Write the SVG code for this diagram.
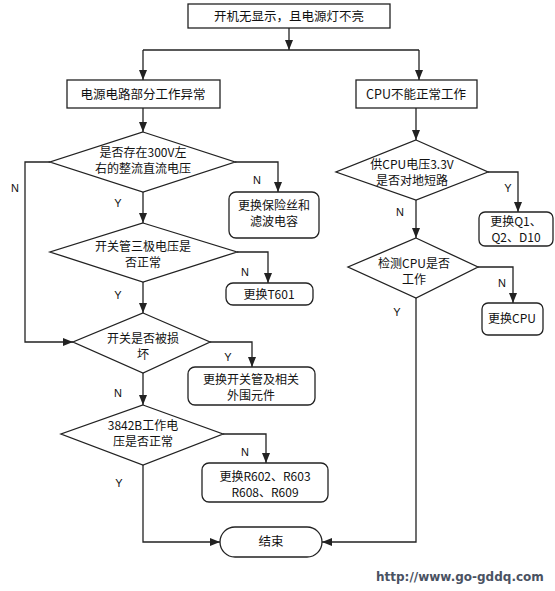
<svg xmlns="http://www.w3.org/2000/svg" width="555" height="591" viewBox="0 0 555 591">
<defs>
<marker id="ah" viewBox="0 0 10 8" refX="10" refY="4" markerWidth="10" markerHeight="8" markerUnits="userSpaceOnUse" orient="auto">
<path d="M0,0 L10,4 L0,8 Z" fill="#222"/>
</marker>
<style>
.s{fill:#fff;stroke:#222;stroke-width:1.3}
.c{fill:none;stroke:#222;stroke-width:1.3}
.t{font-family:"Noto Sans CJK SC","Liberation Sans",sans-serif;font-size:12px;fill:#111;text-anchor:middle}
.b{font-size:12.5px}
.l{font-family:"Liberation Sans",sans-serif;font-size:11px;fill:#111;text-anchor:middle}
.u{font-family:"DejaVu Sans",sans-serif;font-weight:bold;font-size:12px;fill:#4a5262}
</style>
</defs>
<rect width="555" height="591" fill="#fff"/>
<g id="connectors">
<path class="c" d="M289,28 V50" marker-end="url(#ah)"/>
<path class="c" d="M143,50 H419"/>
<path class="c" d="M143,50 V80" marker-end="url(#ah)"/>
<path class="c" d="M419,50 V80" marker-end="url(#ah)"/>
<path class="c" d="M143,108 V132" marker-end="url(#ah)"/>
<path class="c" d="M235,162 H278 V192" marker-end="url(#ah)"/>
<path class="c" d="M50,162 H25 V342 H73" marker-end="url(#ah)"/>
<path class="c" d="M143,192 V223" marker-end="url(#ah)"/>
<path class="c" d="M237,252 H268 V283" marker-end="url(#ah)"/>
<path class="c" d="M143,282 V313" marker-end="url(#ah)"/>
<path class="c" d="M210,342 H252 V367" marker-end="url(#ah)"/>
<path class="c" d="M143,373 V405" marker-end="url(#ah)"/>
<path class="c" d="M223,434 H266 V463" marker-end="url(#ah)"/>
<path class="c" d="M143,465 V542 H220" marker-end="url(#ah)"/>
<path class="c" d="M416,108 V140" marker-end="url(#ah)"/>
<path class="c" d="M488,172 H518 V212" marker-end="url(#ah)"/>
<path class="c" d="M416,200 V238" marker-end="url(#ah)"/>
<path class="c" d="M478,267 H513 V303" marker-end="url(#ah)"/>
<path class="c" d="M416,298 V542 H322" marker-end="url(#ah)"/>
<text class="l" x="15" y="192">N</text>
<text class="l" x="118" y="207">Y</text>
<text class="l" x="257" y="184">N</text>
<text class="l" x="118" y="299">Y</text>
<text class="l" x="245" y="276">N</text>
<text class="l" x="228" y="361">Y</text>
<text class="l" x="118" y="397">N</text>
<text class="l" x="245" y="456">N</text>
<text class="l" x="119" y="487">Y</text>
<text class="l" x="508" y="192">Y</text>
<text class="l" x="400" y="216">N</text>
<text class="l" x="502" y="287">N</text>
<text class="l" x="397" y="316">Y</text>
</g>
<g id="start">
<rect class="s" x="188" y="4" width="202" height="24"/>
<text class="t b" x="289" y="21">开机无显示，且电源灯不亮</text>
</g>
<g id="power">
<rect class="s" x="67" y="80" width="153" height="28"/>
<text class="t b" x="143" y="99">电源电路部分工作异常</text>
</g>
<g id="cpu">
<rect class="s" x="356" y="80" width="121" height="28"/>
<text class="t b" x="416" y="99">CPU不能正常工作</text>
</g>
<g id="d1">
<polygon class="s" points="143,132 235,162 143,192 50,162"/>
<text class="t" x="143" y="157">是否存在300V左</text>
<text class="t" x="143" y="173">右的整流直流电压</text>
</g>
<g id="fuse">
<rect class="s" x="229" y="192" width="90" height="46" rx="7"/>
<text class="t" x="274" y="210">更换保险丝和</text>
<text class="t" x="274" y="226">滤波电容</text>
</g>
<g id="d2">
<polygon class="s" points="143,223 237,252 143,282 50,252"/>
<text class="t" x="143" y="251">开关管三极电压是</text>
<text class="t" x="143" y="267">否正常</text>
</g>
<g id="t601">
<rect class="s" x="226" y="283" width="87" height="22" rx="7"/>
<text class="t" x="269" y="299">更换T601</text>
</g>
<g id="d3">
<polygon class="s" points="143,313 210,342 143,373 73,342"/>
<text class="t" x="143" y="343">开关是否被损</text>
<text class="t" x="143" y="359">坏</text>
</g>
<g id="sw">
<rect class="s" x="188" y="367" width="127" height="38" rx="7"/>
<text class="t" x="251" y="384">更换开关管及相关</text>
<text class="t" x="251" y="400">外围元件</text>
</g>
<g id="d4">
<polygon class="s" points="143,405 223,434 143,465 61,434"/>
<text class="t" x="143" y="430">3842B工作电</text>
<text class="t" x="143" y="446">压是否正常</text>
</g>
<g id="r60x">
<rect class="s" x="202" y="463" width="126" height="39" rx="7"/>
<text class="t" x="265" y="481">更换R602、R603</text>
<text class="t" x="265" y="497">R608、R609</text>
</g>
<g id="end">
<rect class="s" x="220" y="527" width="102" height="30" rx="15"/>
<text class="t b" x="271" y="546">结束</text>
</g>
<g id="d5">
<polygon class="s" points="416,140 488,172 416,200 336,172"/>
<text class="t" x="412" y="169">供CPU电压3.3V</text>
<text class="t" x="412" y="185">是否对地短路</text>
</g>
<g id="q1">
<rect class="s" x="479" y="212" width="74" height="34" rx="6"/>
<text class="t" x="516" y="226">更换Q1、</text>
<text class="t" x="516" y="242">Q2、D10</text>
</g>
<g id="d6">
<polygon class="s" points="416,238 478,267 416,298 348,267"/>
<text class="t" x="414" y="268">检测CPU是否</text>
<text class="t" x="414" y="284">工作</text>
</g>
<g id="rcpu">
<rect class="s" x="482" y="303" width="61" height="32" rx="6"/>
<text class="t" x="512" y="323">更换CPU</text>
</g>
<text class="u" x="376" y="581">http://www.go-gddq.com</text>
</svg>
